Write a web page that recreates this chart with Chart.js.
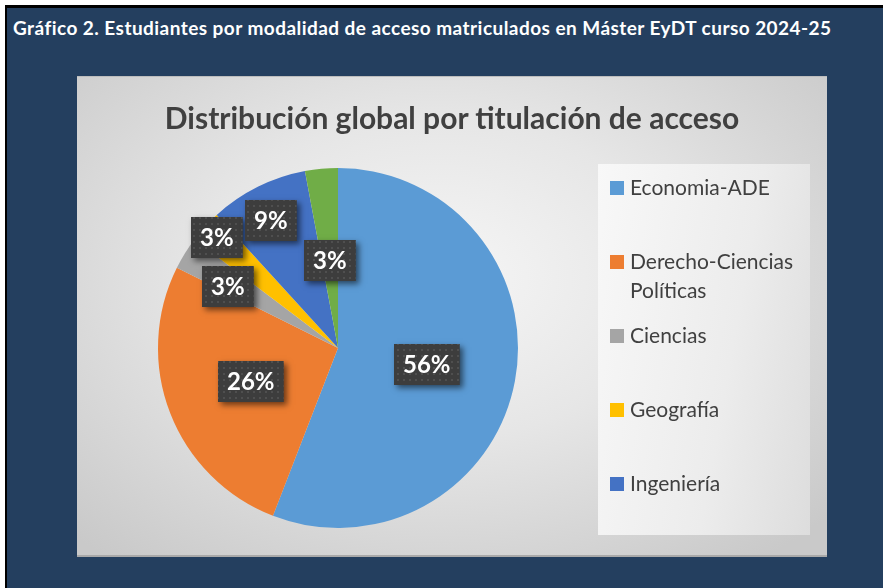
<!DOCTYPE html>
<html>
<head>
<meta charset="utf-8">
<script src="https://cdn.jsdelivr.net/npm/chart.js@4.4.1/dist/chart.umd.min.js"></script>
<style>
  html, body { margin:0; padding:0; width:883px; height:588px; overflow:hidden; background:#ffffff; }
  #frame { position:absolute; left:5px; top:5px; width:876px; height:580px;
           border-left:2px solid #000; border-top:3px solid #000; background:#243F5F; }
  #heading { position:absolute; left:6px; top:8px; color:#fff; font-family:Lato, "Open Sans", sans-serif;
             font-weight:700; font-size:19px; white-space:nowrap; letter-spacing:0.45px; }
  #panel { position:absolute; left:70px; top:68px; width:750px; height:478px;
           background: radial-gradient(ellipse 70% 75% at 48% 42%, #f6f6f6 0%, #e6e6e6 45%, #c9c9c9 100%);
           border-top:1px solid #bdbdbd; border-bottom:2px solid #a9a9a9; }
  #ctitle { position:absolute; left:0; top:22px; width:750px; text-align:center; color:#404040;
            font-family:Lato, "Open Sans", sans-serif; font-weight:700; font-size:30px; line-height:36px; white-space:nowrap; }
  #chartwrap { position:absolute; left:0; top:0; width:750px; height:478px; }
  #legend { position:absolute; left:521px; top:87px; width:212px; height:371px;
            background: linear-gradient(100deg, #f8f8f8 0%, #ececec 60%, #dddddd 100%); }
  .item { position:absolute; left:12px; width:198px; font-family:Lato, "Open Sans", sans-serif;
          font-size:21px; line-height:29px; color:#404040; padding-left:20px; white-space:nowrap; }
  .mk { position:absolute; left:0; top:9px; width:14px; height:14px; }
</style>
</head>
<body>
<div id="frame">
  <div id="heading">Gráfico 2. Estudiantes por modalidad de acceso matriculados en Máster EyDT curso 2024-25</div>
  <div id="panel">
    <div id="chartwrap"><canvas id="c" width="750" height="478"></canvas></div>
    <div id="ctitle"></div>
    <div id="legend"></div>
  </div>
</div>
<script>
// ---- data ----
const chartTitle = 'Distribución global por titulación de acceso';
const categories = ['Economia-ADE', 'Derecho-Ciencias Políticas', 'Ciencias', 'Geografía', 'Ingeniería', 'Otras'];
const legendLines = [['Economia-ADE'], ['Derecho-Ciencias', 'Políticas'], ['Ciencias'], ['Geografía'], ['Ingeniería']];
const students = [19, 9, 1, 1, 3, 1];
const colors = ['#5B9BD5', '#ED7D31', '#A5A5A5', '#FFC000', '#4472C4', '#70AD47'];

document.getElementById('ctitle').textContent = chartTitle;

// ---- legend (HTML, only the entries Excel had room for) ----
const legendEl = document.getElementById('legend');
legendLines.forEach((lines, i) => {
  const d = document.createElement('div');
  d.className = 'item';
  d.style.top = (8 + i * 74) + 'px';
  const m = document.createElement('span');
  m.className = 'mk';
  m.style.background = colors[i];
  d.appendChild(m);
  lines.forEach((ln, k) => {
    if (k) d.appendChild(document.createElement('br'));
    d.appendChild(document.createTextNode(ln));
  });
  legendEl.appendChild(d);
});

// ---- dotted dark pattern for data label boxes ----
function makePattern(ctx) {
  const p = document.createElement('canvas');
  p.width = 6; p.height = 6;
  const pc = p.getContext('2d');
  pc.fillStyle = '#3d3d3d'; pc.fillRect(0, 0, 6, 6);
  pc.fillStyle = '#4f4f4f'; pc.fillRect(2, 2, 2, 2);
  return ctx.createPattern(p, 'repeat');
}

const boxLabels = {
  id: 'boxLabels',
  afterDatasetsDraw(chart, args, opts) {
    const ctx = chart.ctx;
    const meta = chart.getDatasetMeta(0);
    const vals = chart.data.datasets[0].data;
    const total = vals.reduce((a, b) => a + b, 0);
    const pat = makePattern(ctx);
    meta.data.forEach((arc, i) => {
      const p = arc.getProps(['x', 'y', 'startAngle', 'endAngle', 'outerRadius'], true);
      const mid = (p.startAngle + p.endAngle) / 2 + opts.shift[i] * Math.PI / 180;
      const f = opts.radial[i];
      const cx = p.x + Math.cos(mid) * p.outerRadius * f;
      const cy = p.y + Math.sin(mid) * p.outerRadius * f;
      const txt = Math.round(vals[i] / total * 100) + '%';
      ctx.save();
      ctx.font = 'bold 24px Lato, "Open Sans", sans-serif';
      const w = ctx.measureText(txt).width + 18;
      const h = 41;
      const bx = Math.round(cx - w / 2), by = Math.round(cy - h / 2);
      ctx.shadowColor = 'rgba(0,0,0,0.55)';
      ctx.shadowBlur = 6; ctx.shadowOffsetX = 3; ctx.shadowOffsetY = 3;
      ctx.fillStyle = '#3d3d3d';
      ctx.fillRect(bx, by, w, h);
      ctx.shadowColor = 'transparent';
      ctx.fillStyle = pat;
      ctx.fillRect(bx, by, w, h);
      ctx.fillStyle = '#ffffff';
      ctx.textAlign = 'center';
      ctx.textBaseline = 'middle';
      ctx.fillText(txt, bx + w / 2, by + h / 2 + 1);
      ctx.restore();
    });
  }
};

new Chart(document.getElementById('c'), {
  type: 'pie',
  data: {
    labels: categories,
    datasets: [{ data: students, backgroundColor: colors, borderWidth: 0 }]
  },
  plugins: [boxLabels],
  options: {
    responsive: false,
    animation: false,
    layout: { padding: { left: 81, right: 309, top: 91, bottom: 27 } },
    plugins: {
      legend: { display: false },
      tooltip: { enabled: false },
      title: { display: false },
      boxLabels: { radial: [0.5, 0.52, 0.7, 0.91, 0.8, 0.49], shift: [0, 0, -2.5, 0, -1.5, 0] }
    }
  }
});
</script>
</body>
</html>
